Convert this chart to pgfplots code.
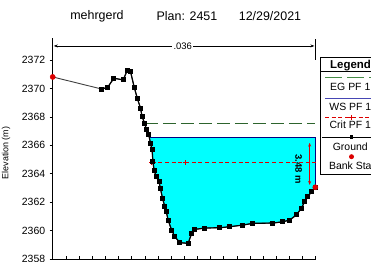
\documentclass[border=0pt]{standalone}
\usepackage{pgfplots}
\pgfplotsset{compat=1.18}
\usepackage{pgfplotstable}
\usetikzlibrary{arrows.meta}
\usepackage{fontspec}
\setmainfont{Liberation Sans}
\definecolor{egcol}{RGB}{45,100,45}
\definecolor{eglg}{RGB}{70,140,70}
\definecolor{wscol}{RGB}{0,0,128}
\definecolor{wslg}{RGB}{70,70,180}
\definecolor{watercol}{RGB}{0,255,255}
\definecolor{redc}{RGB}{220,0,0}
\pgfplotstableread{
x y
0 2370.81
37.2 2369.96
41.8 2370.08
46.5 2370.72
53.6 2370.60
56.6 2371.25
59.2 2371.18
62.0 2370.08
64.5 2369.26
66.8 2368.61
68.0 2368.01
69.9 2367.55
71.4 2367.08
73.1 2366.73
74.3 2366.16
75.6 2365.67
76.2 2364.85
77.1 2364.26
78.7 2363.79
80.9 2363.42
81.9 2362.98
83.5 2362.27
85.3 2361.68
86.4 2361.31
87.8 2360.74
90.4 2360.04
92.9 2359.57
96.7 2359.15
103.0 2359.10
105.5 2359.76
108.0 2360.08
115.6 2360.18
127.0 2360.20
134.6 2360.27
144.7 2360.39
152.3 2360.51
167.5 2360.53
175.1 2360.62
180.2 2360.74
185.3 2361.10
189.1 2361.57
191.6 2362.03
194.1 2362.38
196.7 2362.74
199.7 2363.05
}\ground
\pgfplotstableread{
x y
73.5 2366.54
74.3 2366.16
75.6 2365.67
76.2 2364.85
77.1 2364.26
78.7 2363.79
80.9 2363.42
81.9 2362.98
83.5 2362.27
85.3 2361.68
86.4 2361.31
87.8 2360.74
90.4 2360.04
92.9 2359.57
96.7 2359.15
103.0 2359.10
105.5 2359.76
108.0 2360.08
115.6 2360.18
127.0 2360.20
134.6 2360.27
144.7 2360.39
152.3 2360.51
167.5 2360.53
175.1 2360.62
180.2 2360.74
185.3 2361.10
189.1 2361.57
191.6 2362.03
194.1 2362.38
196.7 2362.74
199.7 2363.05
199.7 2366.54
}\water
\begin{document}
\begin{tikzpicture}
\useasboundingbox (0,0) rectangle (371bp,262bp);
\clip (0,0) rectangle (371bp,262bp);
\begin{axis}[
  at={(52.7bp,3bp)}, anchor=south west,
  scale only axis, width=263bp, height=221bp,
  xmin=0, xmax=200, ymin=2358, ymax=2373.55,
  axis x line*=bottom, axis y line*=left,
  axis line style={black, line width=0.6bp},
  xtick={0,10,...,200}, xticklabels={},
  ytick={2358,2360,...,2372},
  minor y tick num=3,
  xtick align=inside, ytick align=outside,
  major tick length=3bp, minor tick length=1.8bp,
  tick style={black, line width=0.5bp},
  /pgf/number format/assume math mode=true,
  /pgf/number format/set thousands separator={},
  yticklabel style={font=\fontsize{10.5}{12}\selectfont, xshift=-1bp},
  clip=false,
]
% water
\addplot[fill=watercol, draw=none] table[x=x,y=y]{\water} -- cycle;
% WS
\addplot[wscol, line width=1bp] coordinates {(73.5,2366.54) (199.7,2366.54) (199.7,2363.05)};
% EG
\addplot[egcol, line width=0.9bp, dash pattern=on 13bp off 5bp] coordinates {(70.1,2367.55) (199.7,2367.55)};
% Crit
\addplot[redc, line width=0.8bp, dash pattern=on 4bp off 2.7bp] coordinates {(75.2,2364.78) (202.2,2364.78)};
\addplot[redc, only marks, mark=+, mark size=2.5bp, mark options={line width=0.7bp}] coordinates {(75.2,2364.78) (101.2,2364.78)};
% Ground
\addplot[black!75, line width=0.9bp, forget plot] table[x=x,y=y]{\ground};
\addplot[black, line width=1.2bp, mark=square*, mark size=1.9bp] table[x=x,y=y, skip coords between index={0}{1}]{\ground};
% Bank stations
\addplot[redc, only marks, mark=*, mark size=2.6bp] coordinates {(0,2370.81) (199.7,2363.05)};
% depth arrow
\addplot[redc, line width=0.7bp, <->, >={Stealth[length=4bp,width=3bp]}] coordinates {(195.4,2366.18) (195.4,2363.21)};
\node[rotate=-90, font=\bfseries\fontsize{9.5}{11}\selectfont, inner sep=0pt] at (axis cs:187.0,2364.33) {3.48 m};
% top width annotation
\addplot[black, line width=0.6bp, <->, >={Stealth[length=4bp,width=3bp]}] coordinates {(0.8,2372.99) (199.0,2372.99)};
\node[fill=white, inner sep=1.5bp, font=\fontsize{9.5}{11}\selectfont] at (axis cs:98.9,2372.99) {.036};
\addplot[black, line width=1.6bp] coordinates {(199.7,2373.45) (199.7,2372.0)};
\end{axis}
% title
\node[font=\fontsize{12.5}{14}\selectfont] at (97bp,246bp) {mehrgerd};
\node[font=\fontsize{12.5}{14}\selectfont] at (187bp,246bp) {Plan: 2451};
\node[font=\fontsize{12.5}{14}\selectfont] at (270bp,246bp) {12/29/2021};
% y label
\node[rotate=90, font=\fontsize{9}{11}\selectfont] at (6bp,109bp) {Elevation (m)};
% legend
\draw[black, line width=0.8bp, fill=white] (320.7bp,88bp) rectangle (385bp,205bp);
\node[font=\bfseries\fontsize{11.5}{13}\selectfont] at (350.5bp,196.5bp) {Legend};
\draw[black, line width=0.6bp] (320.7bp,190.5bp) -- (385bp,190.5bp);
\draw[eglg, line width=1bp, dash pattern=on 17bp off 5bp] (325bp,184.7bp) -- (385bp,184.7bp);
\node[font=\fontsize{10.5}{12}\selectfont] at (350.3bp,174.7bp) {EG PF 1};
\draw[wslg, line width=1bp] (325bp,163.7bp) -- (385bp,163.7bp);
\node[font=\fontsize{10.5}{12}\selectfont] at (350.3bp,155.3bp) {WS PF 1};
\draw[redc, line width=0.8bp, dash pattern=on 4bp off 2.7bp] (325bp,144.3bp) -- (385bp,144.3bp);
\draw[redc, line width=0.7bp] (349bp,144.3bp) -- (354bp,144.3bp) (351.5bp,141.8bp) -- (351.5bp,146.8bp);
\node[font=\fontsize{10.5}{12}\selectfont] at (350.3bp,137bp) {Crit PF 1};
\draw[black, line width=1bp] (322bp,124.7bp) -- (385bp,124.7bp);
\fill[black] (349.6bp,122.8bp) rectangle (353.4bp,126.6bp);
\node[font=\fontsize{10.5}{12}\selectfont] at (350.3bp,115.3bp) {Ground};
\fill[redc] (351.5bp,105.3bp) circle (2.5bp);
\node[font=\fontsize{10.5}{12}\selectfont] at (350.3bp,96.3bp) {Bank Sta};
\end{tikzpicture}
\end{document}
